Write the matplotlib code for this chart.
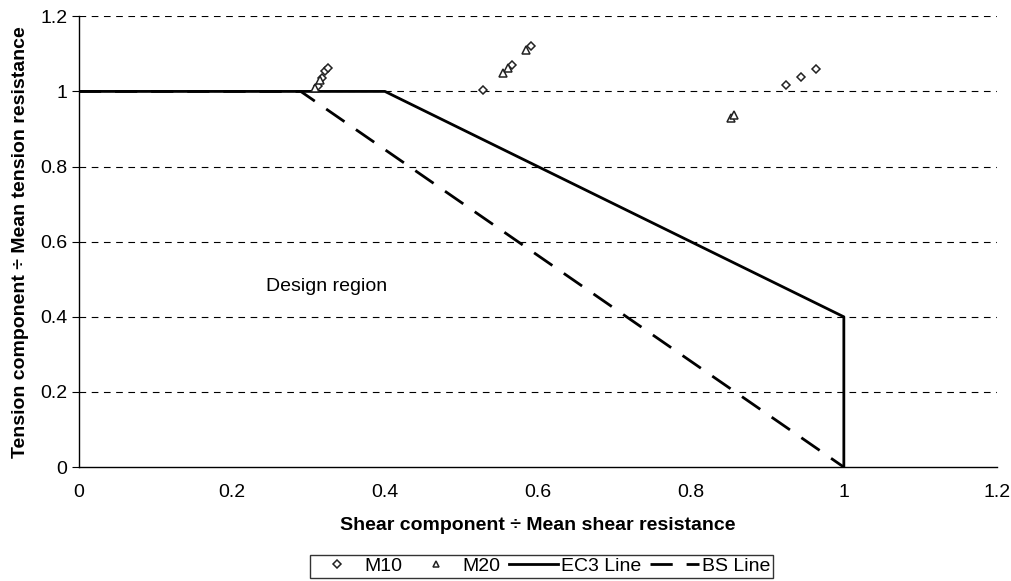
import matplotlib
matplotlib.use("Agg")
import matplotlib.pyplot as plt

plt.rcParams['font.family'] = ['Liberation Sans', 'DejaVu Sans']

# Data
m10_x = [0.312, 0.318, 0.322, 0.325, 0.528, 0.566, 0.591, 0.924, 0.944, 0.963]
m10_y = [1.015, 1.035, 1.055, 1.062, 1.003, 1.070, 1.122, 1.016, 1.038, 1.059]
m20_x = [0.308, 0.315, 0.554, 0.561, 0.585, 0.852, 0.856]
m20_y = [1.010, 1.030, 1.048, 1.062, 1.110, 0.930, 0.936]
ec3_x = [0.0, 0.4, 1.0, 1.0]
ec3_y = [1.0, 1.0, 0.4, 0.0]
bs_x = [0.0, 0.29, 1.0]
bs_y = [1.0, 1.0, 0.0]
xticks = [0, 0.2, 0.4, 0.6, 0.8, 1, 1.2]
yticks = [0, 0.2, 0.4, 0.6, 0.8, 1, 1.2]

fig = plt.figure(figsize=(10.12, 5.81), dpi=100)
ax = fig.add_axes([0.078, 0.196, 0.907, 0.776])

for y in yticks[1:]:
    ax.axhline(y, color='black', lw=0.8, ls=(0, (6, 5)), zorder=1)

ax.plot(m10_x, m10_y, ls='none', marker='D', ms=4.5, mfc='white', mec='#222222', mew=1.1, label='M10', zorder=3)
ax.plot(m20_x, m20_y, ls='none', marker='^', ms=5.5, mfc='white', mec='#222222', mew=1.1, label='M20', zorder=3)
ax.plot(ec3_x, ec3_y, color='black', lw=2, label='EC3 Line', zorder=2)
ax.plot(bs_x, bs_y, color='black', lw=2, ls=(0, (8, 5)), label='BS Line', zorder=2)

ax.set_xlim(0, 1.2)
ax.set_ylim(0, 1.2)
ax.set_xticks(xticks)
ax.set_yticks(yticks)
ax.set_xticklabels(['0', '0.2', '0.4', '0.6', '0.8', '1', '1.2'])
ax.set_yticklabels(['0', '0.2', '0.4', '0.6', '0.8', '1', '1.2'])
ax.tick_params(axis='both', labelsize=14, colors='black', length=5, direction='out')
ax.tick_params(axis='x', length=0, pad=12)
for s in ['top', 'right']:
    ax.spines[s].set_visible(False)
ax.spines['left'].set_linewidth(1.0)
ax.spines['bottom'].set_linewidth(1.0)

ax.set_xlabel('Shear component ÷ Mean shear resistance', fontsize=14, fontweight='bold', labelpad=12)
ax.set_ylabel('Tension component ÷ Mean tension resistance', fontsize=14, fontweight='bold', labelpad=8)

ax.text(0.245, 0.48, 'Design region', fontsize=14, ha='left', va='center')

leg = fig.legend(loc='lower center', bbox_to_anchor=(0.535, 0.0), ncol=4, fontsize=14,
                 frameon=True, fancybox=False, edgecolor='black', handlelength=2.5,
                 columnspacing=0.45, handletextpad=0.15, borderpad=0.15, borderaxespad=0.15,
                 markerscale=0.8)
leg.get_frame().set_linewidth(1.0)

fig.savefig('out.png', dpi=100)
